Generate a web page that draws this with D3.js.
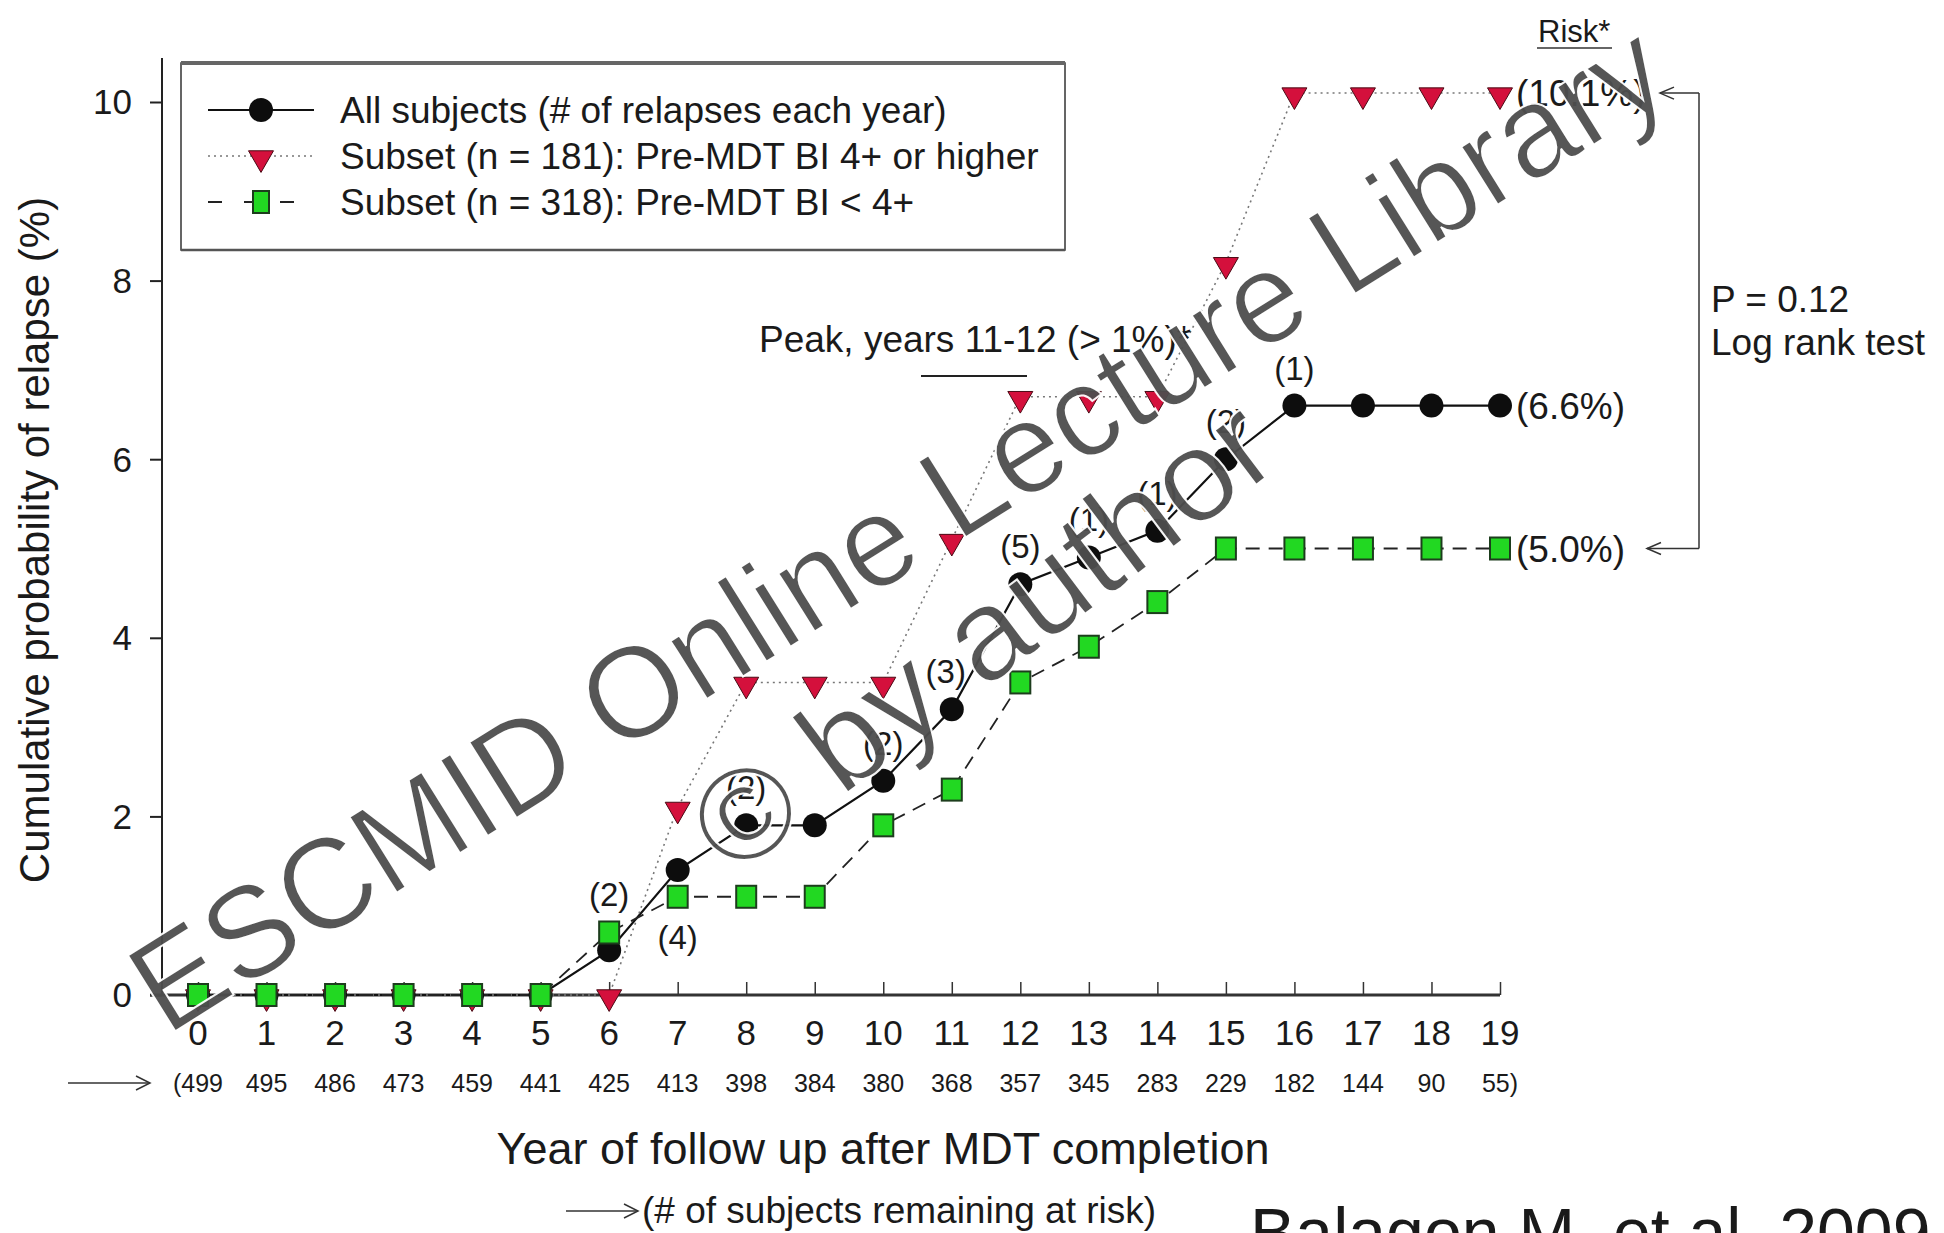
<!DOCTYPE html>
<html><head><meta charset="utf-8">
<script src="https://cdn.jsdelivr.net/npm/d3@7"></script>
<style>
html,body{margin:0;padding:0;background:#fff;}
svg{display:block;}
text{font-family:"Liberation Sans",Arial,sans-serif;fill:#1a1a1a;}
</style></head>
<body>
<svg id="chart" width="1944" height="1233"></svg>
<script>
// ---------- data ----------
const years = [0,1,2,3,4,5,6,7,8,9,10,11,12,13,14,15,16,17,18,19];
const allSubjects = [0,0,0,0,0,0,0.5,1.4,1.9,1.9,2.4,3.2,4.6,4.9,5.2,6.0,6.6,6.6,6.6,6.6];
const biHigh = [0,0,0,0,0,0,0,2.1,3.5,3.5,3.5,5.1,6.7,6.7,6.7,8.2,10.1,10.1,10.1,10.1];
const biLow = [0,0,0,0,0,0,0.7,1.1,1.1,1.1,1.9,2.3,3.5,3.9,4.4,5.0,5.0,5.0,5.0,5.0];
const relapsesEachYear = [null,null,null,null,null,null,2,4,2,null,2,3,5,1,1,2,1,null,null,null];
const atRisk = [499,495,486,473,459,441,425,413,398,384,380,368,357,345,283,229,182,144,90,55];
const yTicks = [0,2,4,6,8,10];
const legendLabels = ["All subjects (# of relapses each year)","Subset (n = 181): Pre-MDT BI 4+ or higher","Subset (n = 318): Pre-MDT BI < 4+"];
const endLabels = ["(6.6%)","(10.1%)","(5.0%)"];

// ---------- setup ----------
const svg = d3.select("#chart");
const x = d3.scaleLinear().domain([0,19]).range([198,1500]);
const y = d3.scaleLinear().domain([0,10]).range([995,102]);
const axisX0 = 162;

// y axis
svg.append("line").attr("x1",axisX0).attr("x2",axisX0).attr("y1",58).attr("y2",y(0)).attr("stroke","#222").attr("stroke-width",2);
const yAxis = d3.axisLeft(y).tickValues(yTicks).tickSize(12).tickFormat(d3.format("d"));
const gy = svg.append("g").attr("transform",`translate(${axisX0},0)`).call(yAxis);
gy.select(".domain").remove();
gy.selectAll(".tick line").attr("stroke","#222").attr("stroke-width",2);
gy.selectAll(".tick text").attr("font-size",35).attr("x",-30).attr("dy","0.34em").attr("fill","#1a1a1a").attr("font-family","Liberation Sans, Arial, sans-serif");

// x axis
svg.append("line").attr("x1",axisX0-12).attr("x2",x(19)).attr("y1",y(0)).attr("y2",y(0)).attr("stroke","#333").attr("stroke-width",3);
const xAxis = d3.axisTop(x).tickValues(years).tickSize(13).tickFormat("");
const gx = svg.append("g").attr("transform",`translate(0,${y(0)})`).call(xAxis);
gx.select(".domain").remove();
gx.selectAll(".tick line").attr("stroke","#333").attr("stroke-width",1.5);
svg.append("g").selectAll("text").data(years).join("text")
  .attr("x",d=>x(d)).attr("y",1045).attr("text-anchor","middle").attr("font-size",35).text(d=>d);

// at risk row
svg.append("g").selectAll("text").data(atRisk).join("text")
  .attr("x",(d,i)=>x(years[i])).attr("y",1092).attr("text-anchor","middle").attr("font-size",25)
  .text((d,i)=> i===0 ? "(" + d : (i===atRisk.length-1 ? d + ")" : d));
function arrow(x1,x2,yy){
  svg.append("line").attr("x1",x1).attr("x2",x2).attr("y1",yy).attr("y2",yy).attr("stroke","#333").attr("stroke-width",1.5);
  svg.append("path").attr("d",`M${x2-14},${yy-7}L${x2},${yy}L${x2-14},${yy+7}`).attr("fill","none").attr("stroke","#333").attr("stroke-width",1.5);
}
arrow(68,150,1083);

// axis titles
svg.append("text").attr("x",883).attr("y",1164).attr("text-anchor","middle").attr("font-size",45).text("Year of follow up after MDT completion");
arrow(566,638,1211);
svg.append("text").attr("x",642).attr("y",1223).attr("font-size",37).text("(# of subjects remaining at risk)");
svg.append("text").attr("transform","translate(49,540) rotate(-90)").attr("text-anchor","middle").attr("font-size",42).text("Cumulative probability of relapse (%)");

// ---------- series ----------
const line = d3.line().x((d,i)=>x(years[i])).y(d=>y(d));
svg.append("path").datum(allSubjects).attr("d",line).attr("fill","none").attr("stroke","#111").attr("stroke-width",2.2);
svg.append("path").datum(biHigh).attr("d",line).attr("fill","none").attr("stroke","#777").attr("stroke-width",1.6).attr("stroke-dasharray","2,4");
svg.append("path").datum(biLow).attr("d",line).attr("fill","none").attr("stroke","#222").attr("stroke-width",1.8).attr("stroke-dasharray","14,9");

const tri = d3.symbol().type(d3.symbolTriangle).size(270);
function circles(g,data){ g.selectAll("circle").data(data).join("circle").attr("cx",(d,i)=>x(years[i])).attr("cy",d=>y(d)).attr("r",12).attr("fill","#0d0d0d"); }
function triangles(g,data){ g.selectAll("path").data(data).join("path").attr("d",tri).attr("transform",(d,i)=>`translate(${x(years[i])},${y(d)+2}) rotate(180)`).attr("fill","#d4103c").attr("stroke","#4a0a14").attr("stroke-width",1); }
function squares(g,data){ g.selectAll("rect").data(data).join("rect").attr("x",(d,i)=>x(years[i])-10).attr("y",d=>y(d)-11).attr("width",20).attr("height",22).attr("fill","#22d822").attr("stroke","#1d3d1d").attr("stroke-width",2); }
circles(svg.append("g"),allSubjects);
triangles(svg.append("g"),biHigh);
squares(svg.append("g"),biLow);

// relapse count labels
svg.append("g").selectAll("text").data(years.filter(i=>relapsesEachYear[i]!==null)).join("text")
  .attr("x",i=>x(i)+ (i===11?-6:0))
  .attr("y",i=> i===7 ? y(biLow[i])+52 : y(allSubjects[i])-26 - (i===6?18:0))
  .attr("text-anchor","middle").attr("font-size",33).text(i=>"(" + relapsesEachYear[i] + ")");

// end labels
const lastI = years.length-1;
[[allSubjects,endLabels[0]],[biHigh,endLabels[1]],[biLow,endLabels[2]]].forEach(([s,l])=>{
  svg.append("text").attr("x",x(years[lastI])+16).attr("y",y(s[lastI])+13).attr("font-size",37).text(l);
});

// bracket
const bx = 1699;
svg.append("line").attr("x1",bx).attr("x2",bx).attr("y1",y(biHigh[lastI])).attr("y2",y(biLow[lastI])).attr("stroke","#333").attr("stroke-width",1.5);
function leftArrow(xt,yy){
  svg.append("line").attr("x1",xt).attr("x2",bx).attr("y1",yy).attr("y2",yy).attr("stroke","#333").attr("stroke-width",1.5);
  svg.append("path").attr("d",`M${xt+14},${yy-6}L${xt},${yy}L${xt+14},${yy+6}`).attr("fill","none").attr("stroke","#333").attr("stroke-width",1.5);
}
leftArrow(1660,y(biHigh[lastI]));
leftArrow(1647,y(biLow[lastI]));
svg.append("text").attr("x",1711).attr("y",312).attr("font-size",37).text("P = 0.12");
svg.append("text").attr("x",1711).attr("y",355).attr("font-size",37).text("Log rank test");
svg.append("text").attr("x",1538).attr("y",42).attr("font-size",31).text("Risk*");
svg.append("line").attr("x1",1537).attr("x2",1612).attr("y1",48).attr("y2",48).attr("stroke","#333").attr("stroke-width",1.5);

// peak annotation
svg.append("text").attr("x",759).attr("y",352).attr("font-size",37).text("Peak, years 11-12 (> 1%)*");
svg.append("line").attr("x1",921).attr("x2",1027).attr("y1",376).attr("y2",376).attr("stroke","#222").attr("stroke-width",1.8);

// ---------- legend ----------
const lg = svg.append("g");
lg.append("rect").attr("x",181).attr("y",63).attr("width",884).attr("height",187).attr("fill","#fff").attr("stroke","#333").attr("stroke-width",1.5);
lg.append("line").attr("x1",181).attr("x2",1065).attr("y1",63).attr("y2",63).attr("stroke","#666").attr("stroke-width",4);
lg.append("line").attr("x1",181).attr("x2",1065).attr("y1",250).attr("y2",250).attr("stroke","#555").attr("stroke-width",2.5);
const ly = [110,156,202];
lg.append("line").attr("x1",208).attr("x2",314).attr("y1",ly[0]).attr("y2",ly[0]).attr("stroke","#111").attr("stroke-width",2.2);
lg.append("circle").attr("cx",261).attr("cy",ly[0]).attr("r",12).attr("fill","#0d0d0d");
lg.append("line").attr("x1",208).attr("x2",314).attr("y1",ly[1]).attr("y2",ly[1]).attr("stroke","#777").attr("stroke-width",1.6).attr("stroke-dasharray","2,4");
lg.append("path").attr("d",tri).attr("transform",`translate(261,${ly[1]+2}) rotate(180)`).attr("fill","#d4103c").attr("stroke","#4a0a14");
lg.append("line").attr("x1",208).attr("x2",314).attr("y1",ly[2]).attr("y2",ly[2]).attr("stroke","#222").attr("stroke-width",1.8).attr("stroke-dasharray","14,22");
lg.append("rect").attr("x",253).attr("y",ly[2]-11).attr("width",16).attr("height",22).attr("fill","#22d822").attr("stroke","#1d3d1d").attr("stroke-width",2);
lg.selectAll("text.lab").data(legendLabels).join("text").attr("class","lab")
  .attr("x",340).attr("y",(d,i)=>ly[i]+13).attr("font-size",37).text(d=>d);

// ---------- citation ----------
svg.append("text").attr("x",1250).attr("y",1256).attr("font-size",68).attr("font-family","Carlito, Calibri, 'Open Sans', sans-serif").attr("fill","#111").text("Balagon M. et al. 2009");

// ---------- watermark ----------
const wm = svg.append("g").attr("opacity",0.95);
wm.append("text").attr("transform","translate(903,536) rotate(-32)").attr("text-anchor","middle").attr("dominant-baseline","middle")
  .attr("font-size",130).attr("font-family","Lato, 'Open Sans', 'Liberation Sans', sans-serif").attr("font-weight",300)
  .attr("textLength",1780).attr("lengthAdjust","spacingAndGlyphs")
  .attr("stroke","#fff").attr("stroke-width",2).attr("paint-order","normal")
  .style("fill","#4e4e4e").text("ESCMID Online Lecture Library");
wm.append("text").attr("transform","translate(988,644) rotate(-37)").attr("text-anchor","middle").attr("dominant-baseline","middle")
  .attr("font-size",130).attr("font-family","Lato, 'Open Sans', 'Liberation Sans', sans-serif").attr("font-weight",300)
  .attr("textLength",690).attr("lengthAdjust","spacingAndGlyphs")
  .attr("stroke","#fff").attr("stroke-width",2).attr("paint-order","normal")
  .style("fill","#4e4e4e").text("© by author");
</script>
</body></html>
